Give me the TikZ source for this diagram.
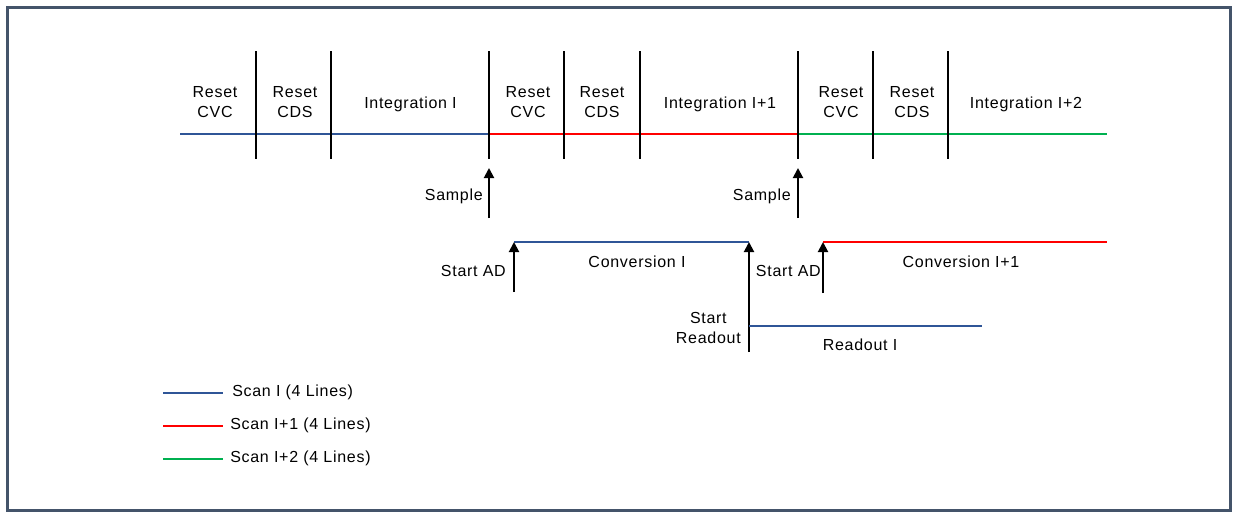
\documentclass[tikz,border=0pt]{standalone}
\usepackage{fontspec}
\setmainfont[LetterSpace=4.5]{Liberation Sans}
\usetikzlibrary{arrows.meta}
\definecolor{scanA}{RGB}{47,85,151}
\definecolor{scanB}{RGB}{255,0,0}
\definecolor{scanC}{RGB}{0,176,80}
\definecolor{framecol}{RGB}{68,84,106}
\begin{document}
\begin{tikzpicture}[x=0.75pt,y=-0.75pt,
  font=\fontsize{12}{15}\selectfont,
  lbl/.style={inner sep=0pt, align=center},
  tickline/.style={line width=1.5pt, black},
  sig/.style={line width=1.5pt},
  thin sig/.style={line width=1.2pt},
  trig/.style={line width=1.5pt, black, -{Triangle[width=7.5pt,length=7.5pt]}}]
\useasboundingbox (0,0) rectangle (1237,512);
\draw[framecol, line width=2.25pt] (7.5,7.5) rectangle (1230.5,510.5);

% main timeline
\coordinate (t0) at (180,134);
\coordinate (t3) at (489,134);
\coordinate (t6) at (798,134);
\coordinate (t9) at (1107,134);
\draw[sig, scanA] (t0) -- (t3);
\draw[sig, scanB] (t3) -- (t6);
\draw[sig, scanC] (t6) -- (t9);

% ticks
\foreach \i/\x in {1/256,2/331,3/489,4/564,5/640,6/798,7/873,8/948}{
  \coordinate (kt\i) at (\x,51);
  \coordinate (kb\i) at (\x,159);
  \draw[tickline] (kt\i) -- (kb\i);
}

% phase labels
\node[lbl] (rc1) at (215,101.7) {Reset\\CVC};
\node[lbl] (rd1) at (295,101.7) {Reset\\CDS};
\node[lbl] (in1) at (410.5,104) {Integration I};
\node[lbl] (rc2) at (528,101.7) {Reset\\CVC};
\node[lbl] (rd2) at (602,101.7) {Reset\\CDS};
\node[lbl] (in2) at (720,104) {Integration I+1};
\node[lbl] (rc3) at (841,101.7) {Reset\\CVC};
\node[lbl] (rd3) at (912,101.7) {Reset\\CDS};
\node[lbl] (in3) at (1026,104) {Integration I+2};

% sample arrows
\coordinate (s1b) at (489,218);
\coordinate (s1t) at (489,168);
\draw[trig] (s1b) -- (s1t);
\node[lbl, anchor=east] (samp1) at (483,196) {Sample};
\coordinate (s2b) at (798,218);
\coordinate (s2t) at (798,168);
\draw[trig] (s2b) -- (s2t);
\node[lbl, anchor=east] (samp2) at (791,196) {Sample};

% conversion I
\coordinate (c1s) at (514,242);
\coordinate (c1e) at (749,242);
\draw[thin sig, scanA] (c1s) -- (c1e);
\coordinate (a1b) at (514,292);
\draw[trig] (a1b) -- (c1s);
\node[lbl, anchor=east] (sad1) at (506,271) {Start AD};
\node[lbl] (conv1) at (637,262) {Conversion I};

% readout
\coordinate (r1b) at (749,352);
\draw[trig] (r1b) -- (c1e);
\node[lbl, anchor=east] (srd) at (741,327.5) {Start\\Readout};
\coordinate (ro1s) at (749,326);
\coordinate (ro1e) at (982,326);
\draw[thin sig, scanA] (ro1s) -- (ro1e);
\node[lbl] (rdo) at (860,345) {Readout I};

% conversion I+1
\coordinate (c2s) at (823,242);
\coordinate (c2e) at (1107,242);
\draw[thin sig, scanB] (c2s) -- (c2e);
\coordinate (a2b) at (823,293);
\draw[trig] (a2b) -- (c2s);
\node[lbl, anchor=east] (sad2) at (821,271) {Start AD};
\node[lbl] (conv2) at (961,262) {Conversion I+1};

% legend
\coordinate (l1a) at (163,393); \coordinate (l1b) at (223,393);
\coordinate (l2a) at (163,426); \coordinate (l2b) at (223,426);
\coordinate (l3a) at (163,459); \coordinate (l3b) at (223,459);
\draw[thin sig, scanA] (l1a) -- (l1b);
\draw[thin sig, scanB] (l2a) -- (l2b);
\draw[thin sig, scanC] (l3a) -- (l3b);
\node[lbl, anchor=west] (lg1) at (232,392) {Scan I (4 Lines)};
\node[lbl, anchor=west] (lg2) at (230,425) {Scan I+1 (4 Lines)};
\node[lbl, anchor=west] (lg3) at (230,458) {Scan I+2 (4 Lines)};
\end{tikzpicture}
\end{document}
